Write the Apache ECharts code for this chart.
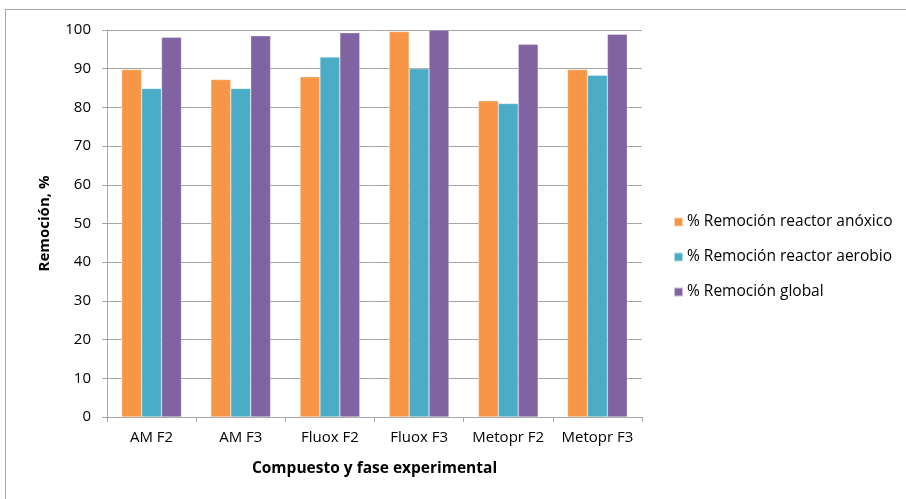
<!DOCTYPE html>
<html><head><meta charset="utf-8">
<script src="https://cdn.jsdelivr.net/npm/echarts@6/dist/echarts.min.js"></script>
<style>html,body{margin:0;padding:0;background:#fff}#c{width:906px;height:499px}
#frame{position:absolute;left:5px;top:9px;width:910px;height:500px;border:1px solid #a6a6a6;pointer-events:none}</style>
</head><body><div id="c"></div><div id="frame"></div>
<script>
const categories = ['AM F2','AM F3','Fluox F2','Fluox F3','Metopr F2','Metopr F3'];
const seriesNames = ['% Remoción reactor anóxico','% Remoción reactor aerobio','% Remoción global'];
const anoxico = [89.8, 87.2, 87.9, 99.6, 81.7, 89.8];
const aerobio = [84.9, 84.9, 93.0, 90.0, 81.0, 88.3];
const global = [98.1, 98.5, 99.3, 100, 96.3, 98.9];
const colors = ['#F79646','#4BACC6','#8064A2'];
const font = '"Open Sans", "Liberation Sans", sans-serif';
const chart = echarts.init(document.getElementById('c'));
const data = [anoxico, aerobio, global];
chart.setOption({
  animation:false,
  textStyle:{fontFamily:font},
  grid:{left:107,right:264,top:30,bottom:82},
  legend:{orient:'vertical',left:668,top:209,itemWidth:9,itemHeight:9,itemGap:19,icon:'rect',
    textStyle:{fontFamily:font,fontSize:15.5,color:'#000',padding:[0,0,0,-1]},data:seriesNames},
  xAxis:{type:'category',data:categories,
    name:'Compuesto y fase experimental',nameLocation:'middle',nameGap:44,
    nameTextStyle:{fontFamily:font,fontWeight:'bold',fontSize:15.5,color:'#000'},
    axisLine:{lineStyle:{color:'#a6a6a6'}},axisTick:{show:true,length:5,lineStyle:{color:'#a6a6a6'}},
    axisLabel:{interval:0,fontFamily:font,fontSize:15,color:'#000',margin:13}},
  yAxis:{type:'value',min:0,max:100,interval:10,
    name:'Remoción, %',nameLocation:'middle',nameGap:55,
    nameTextStyle:{fontFamily:font,fontWeight:'bold',fontSize:15,color:'#000'},
    axisLine:{show:true,lineStyle:{color:'#a6a6a6'}},axisTick:{show:true,length:5,inside:false,lineStyle:{color:'#a6a6a6'}},
    axisLabel:{fontFamily:font,fontSize:15,color:'#000',margin:16},
    splitLine:{lineStyle:{color:'#a6a6a6'}}},
  series: seriesNames.map((n,i)=>({name:n,type:'bar',data:data[i],barGap:'0%',barCategoryGap:'33%',
    itemStyle:{color:colors[i],borderColor:'rgba(255,255,255,0.6)',borderWidth:0.5}}))
});
</script></body></html>
